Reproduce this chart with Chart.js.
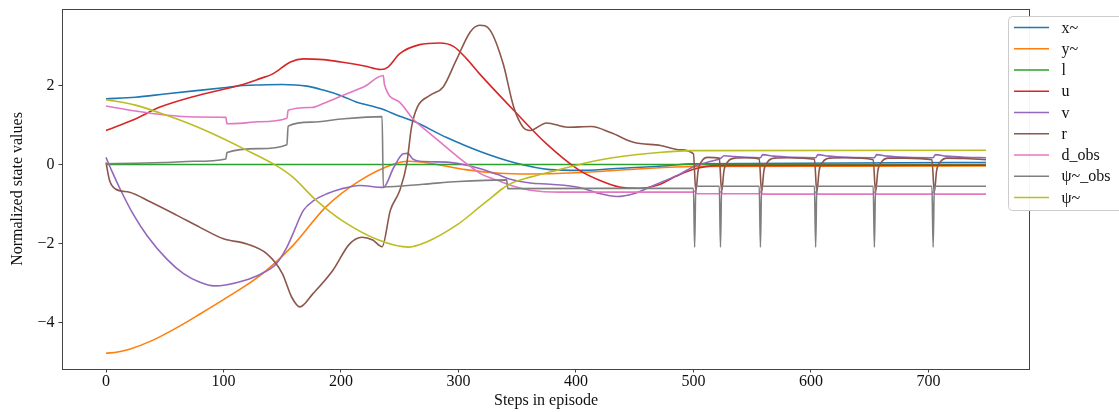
<!doctype html>
<html lang="en">
<head>
<meta charset="utf-8">
<title>Normalized state values</title>
<script src="https://cdn.jsdelivr.net/npm/chart.js"></script>
<style>
  html, body { margin: 0; padding: 0; background: #fff; }
  canvas { display: block; }
</style>
</head>
<body>
<canvas id="chart" width="1119" height="412"></canvas>
<script>
// tick labels
const xTicks = [0, 100, 200, 300, 400, 500, 600, 700];
const yTicks = [-4, -2, 0, 2];

// x~
const xtSteps = [0, 25, 50, 75, 100, 114, 131, 150, 171, 185, 200, 213, 233, 250, 262, 290, 319, 347, 378, 403, 431, 474, 500, 749];
const xtVals  = [1.66, 1.70, 1.78, 1.86, 1.94, 1.99, 2.01, 2.02, 1.98, 1.88, 1.74, 1.58, 1.42, 1.22, 1.09, 0.68, 0.32, 0.05, -0.13, -0.15, -0.11, -0.04, 0.02, 0.05];

// y~
const ytSteps = [0, 10, 20, 40, 60, 80, 103, 131, 159, 187, 216, 244, 258, 278, 306, 335, 360, 400, 450, 500, 749];
const ytVals  = [-4.77, -4.74, -4.67, -4.44, -4.13, -3.78, -3.36, -2.81, -2.05, -1.08, -0.41, 0.0, 0.08, 0.02, -0.13, -0.22, -0.24, -0.21, -0.12, -0.05, -0.04];

// l
const lSteps = [0, 749];
const lVals  = [0, 0];

// u
const uSteps = [0, 25, 46, 75, 100, 114, 131, 142, 157, 168, 185, 200, 220, 234, 240, 250, 267, 284, 296, 307, 318, 347, 375, 403, 420, 437, 454, 470, 485, 500, 520, 749];
const uVals  = [0.86, 1.15, 1.45, 1.72, 1.90, 2.0, 2.17, 2.29, 2.59, 2.67, 2.65, 2.59, 2.49, 2.40, 2.46, 2.80, 3.03, 3.07, 2.98, 2.67, 2.29, 1.37, 0.52, -0.15, -0.40, -0.57, -0.60, -0.52, -0.30, -0.12, -0.03, -0.02];

// v
const vSteps = [0, 5, 12, 23, 35, 52, 66, 80, 92, 103, 117, 131, 145, 154, 159, 168, 177, 188, 200, 216, 236, 245, 253, 257, 261, 267, 290, 304, 318, 333, 345, 361, 378, 403, 418, 435, 449, 466, 488, 502, 515, 523, 526, 535, 545, 557, 559, 568, 585, 604, 606, 615, 632, 654, 656, 665, 682, 704, 706, 715, 732, 749];
const vVals  = [0.18, -0.17, -0.62, -1.25, -1.80, -2.40, -2.76, -2.98, -3.07, -3.04, -2.94, -2.78, -2.51, -2.09, -1.76, -1.16, -0.91, -0.74, -0.62, -0.53, -0.58, -0.07, 0.27, 0.28, 0.14, 0.08, 0.06, 0.0, -0.10, -0.25, -0.38, -0.47, -0.50, -0.58, -0.72, -0.81, -0.74, -0.53, -0.25, -0.03, 0.08, 0.15, 0.22, 0.20, 0.18, 0.17, 0.25, 0.21, 0.18, 0.17, 0.25, 0.21, 0.18, 0.17, 0.25, 0.21, 0.18, 0.17, 0.25, 0.21, 0.18, 0.17];

// r
const rSteps = [0, 3, 8, 20, 38, 60, 80, 100, 120, 137, 150, 158, 165, 176, 193, 207, 218, 227, 235, 242, 250, 256, 260, 265, 276, 287, 298, 310, 318, 327, 338, 347, 355, 361, 375, 393, 413, 430, 449, 472, 489, 500, 502, 504, 507, 512, 522, 524, 526, 529, 535, 545, 556, 558, 560, 563, 569, 580, 603, 605, 607, 610, 616, 630, 653, 655, 657, 660, 666, 680, 703, 705, 707, 710, 716, 730, 749];
const rVals  = [0.05, -0.40, -0.62, -0.70, -0.95, -1.28, -1.59, -1.88, -2.01, -2.26, -2.75, -3.35, -3.60, -3.27, -2.68, -2.02, -1.84, -1.91, -2.08, -1.16, -0.66, 0.02, 0.94, 1.45, 1.75, 1.96, 2.63, 3.35, 3.52, 3.39, 2.55, 1.45, 0.94, 0.86, 1.05, 0.94, 0.96, 0.80, 0.56, 0.48, 0.37, 0.27, -0.68, -0.15, 0.08, 0.18, 0.16, -0.68, -0.15, 0.06, 0.16, 0.17, 0.14, -0.70, -0.15, 0.06, 0.16, 0.17, 0.13, -0.70, -0.15, 0.06, 0.16, 0.17, 0.12, -0.70, -0.15, 0.06, 0.16, 0.16, 0.12, -0.70, -0.15, 0.06, 0.16, 0.15, 0.12];

// d_obs
const dSteps = [0, 25, 50, 75, 102, 103, 114, 130, 154, 155, 175, 185, 205, 220, 236, 237, 250, 262, 275, 287, 300, 310, 320, 333, 347, 361, 386, 500, 501, 503, 522, 523, 525, 556, 557, 559, 603, 604, 606, 653, 654, 656, 703, 704, 706, 749];
const dVals  = [1.48, 1.35, 1.25, 1.20, 1.19, 1.03, 1.04, 1.08, 1.17, 1.37, 1.44, 1.54, 1.79, 1.97, 2.25, 2.02, 1.57, 1.13, 0.80, 0.50, 0.18, -0.05, -0.25, -0.40, -0.55, -0.65, -0.70, -0.70, -0.67, -0.74, -0.74, -0.68, -0.74, -0.74, -0.68, -0.75, -0.75, -0.69, -0.75, -0.75, -0.69, -0.75, -0.75, -0.69, -0.75, -0.75];

// psi~_obs
const poSteps = [0, 25, 50, 75, 102, 103, 130, 154, 155, 175, 200, 235, 236, 270, 300, 341, 342, 500, 501, 502, 522, 523, 524, 556, 557, 558, 603, 604, 605, 653, 654, 655, 703, 704, 705, 749];
const poVals  = [0.02, 0.03, 0.05, 0.08, 0.14, 0.30, 0.40, 0.50, 0.97, 1.07, 1.15, 1.21, -0.57, -0.50, -0.43, -0.39, -0.61, -0.60, -2.09, -0.55, -0.55, -2.09, -0.55, -0.55, -2.09, -0.55, -0.55, -2.09, -0.55, -0.55, -2.09, -0.55, -0.55, -2.09, -0.55, -0.55];

// psi~
const pSteps = [0, 25, 46, 70, 89, 117, 145, 159, 179, 201, 232, 258, 272, 300, 317, 325, 337, 344, 361, 386, 410, 431, 473, 498, 749];
const pVals  = [1.64, 1.50, 1.30, 1.04, 0.80, 0.40, -0.03, -0.32, -0.91, -1.42, -1.91, -2.09, -1.97, -1.50, -1.10, -0.91, -0.62, -0.49, -0.32, -0.13, 0.05, 0.17, 0.31, 0.35, 0.36];

const series = [
  { label: 'x~',     steps: xtSteps, vals: xtVals, color: '#1f77b4' },
  { label: 'y~',     steps: ytSteps, vals: ytVals, color: '#ff7f0e' },
  { label: 'l',      steps: lSteps,  vals: lVals,  color: '#2ca02c' },
  { label: 'u',      steps: uSteps,  vals: uVals,  color: '#d62728' },
  { label: 'v',      steps: vSteps,  vals: vVals,  color: '#9467bd' },
  { label: 'r',      steps: rSteps,  vals: rVals,  color: '#8c564b' },
  { label: 'd_obs',  steps: dSteps,  vals: dVals,  color: '#e377c2' },
  { label: 'ψ~_obs', steps: poSteps, vals: poVals, color: '#7f7f7f' },
  { label: 'ψ~',     steps: pSteps,  vals: pVals,  color: '#bcbd22' }
];

const FONT = '"Liberation Serif", "DejaVu Serif", serif';

// matplotlib-like frame and outside legend
const framePlugin = {
  id: 'frame',
  afterDatasetsDraw(chart) {
    const { ctx, chartArea: a } = chart;
    ctx.save();
    ctx.strokeStyle = '#444';
    ctx.lineWidth = 1;
    ctx.strokeRect(Math.round(a.left) + 0.5, Math.round(a.top) + 0.5,
                   Math.round(a.right - a.left) - 1, Math.round(a.bottom - a.top));
    ctx.restore();
  },
  afterDraw(chart) {
    const ctx = chart.ctx;
    const bx = 1008, by = 16, bw = 140, bh = 194, rowH = 21.25;
    ctx.save();
    ctx.fillStyle = 'rgba(255,255,255,0.95)';
    ctx.strokeStyle = '#cccccc';
    ctx.lineWidth = 1;
    ctx.beginPath();
    ctx.roundRect(bx + 0.5, by + 0.5, bw, bh, 4);
    ctx.fill();
    ctx.stroke();
    ctx.font = '16px ' + FONT;
    ctx.textBaseline = 'middle';
    ctx.textAlign = 'left';
    series.forEach((s, i) => {
      const yy = by + 11.5 + i * rowH;
      ctx.strokeStyle = s.color;
      ctx.lineWidth = 1.6;
      ctx.beginPath();
      ctx.moveTo(1014, yy);
      ctx.lineTo(1049, yy);
      ctx.stroke();
      ctx.fillStyle = '#111';
      ctx.fillText(s.label, 1061.5, yy + 1);
    });
    ctx.restore();
  }
};

new Chart(document.getElementById('chart'), {
  type: 'line',
  data: {
    datasets: series.map((s, i) => ({
      label: s.label,
      data: s.steps.map((st, k) => ({ x: st, y: s.vals[k] })),
      borderColor: s.color,
      backgroundColor: s.color,
      borderWidth: 1.6,
      pointRadius: 0,
      cubicInterpolationMode: 'monotone',
      fill: false,
      order: series.length - 1 - i
    }))
  },
  options: {
    responsive: false,
    animation: false,
    devicePixelRatio: 1,
    layout: { padding: { left: 0, right: 89, top: 9, bottom: 0 } },
    plugins: {
      legend: { display: false },
      tooltip: { enabled: false }
    },
    scales: {
      x: {
        type: 'linear',
        min: -37.45,
        max: 786.45,
        afterBuildTicks: sc => { sc.ticks = xTicks.map(v => ({ value: v })); },
        afterFit: sc => { sc.height = 43; sc.paddingLeft = 0; sc.paddingRight = 0; },
        grid: { drawOnChartArea: false, drawTicks: true, tickLength: 3.5, tickColor: '#444' },
        border: { display: false },
        ticks: { color: '#111', font: { family: FONT, size: 16 }, padding: 0, maxRotation: 0 },
        title: { display: true, text: 'Steps in episode', color: '#111',
                 font: { family: FONT, size: 16 }, padding: { top: 0, bottom: 2 } }
      },
      y: {
        min: -5.17,
        max: 3.93,
        afterBuildTicks: sc => { sc.ticks = yTicks.map(v => ({ value: v })); },
        afterFit: sc => { sc.width = 62; sc.paddingTop = 0; sc.paddingBottom = 0; },
        grid: { drawOnChartArea: false, drawTicks: true, tickLength: 3.5, tickColor: '#444' },
        border: { display: false },
        ticks: { color: '#111', font: { family: FONT, size: 16 }, padding: 4,
                 callback: v => (v < 0 ? '\u2212' + Math.abs(v) : String(v)) },
        title: { display: true, text: 'Normalized state values', color: '#111',
                 font: { family: FONT, size: 16 }, padding: { top: 8, bottom: 0 } }
      }
    }
  },
  plugins: [framePlugin]
});
</script>
</body>
</html>
